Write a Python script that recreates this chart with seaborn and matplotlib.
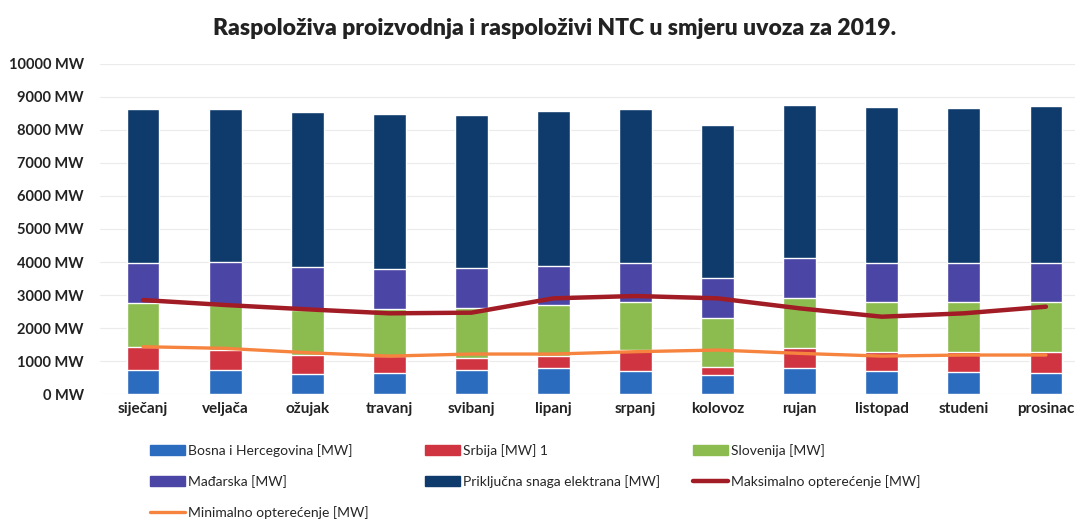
import matplotlib
matplotlib.use("Agg")
import matplotlib.pyplot as plt
from matplotlib.patches import Patch
from matplotlib.lines import Line2D
import seaborn as sns
import numpy as np

# Data (MW)
months = ["siječanj", "veljača", "ožujak", "travanj", "svibanj", "lipanj",
          "srpanj", "kolovoz", "rujan", "listopad", "studeni", "prosinac"]
bosna = [727, 727, 606, 645, 727, 778, 707, 576, 778, 707, 677, 646]
srbija = [688, 606, 574, 505, 353, 372, 626, 252, 606, 576, 606, 637]
slovenija = [1352, 1364, 1365, 1416, 1516, 1547, 1464, 1465, 1515, 1514, 1514, 1514]
madarska = [1193, 1313, 1315, 1214, 1212, 1181, 1183, 1212, 1212, 1183, 1183, 1183]
prikljucna = [4660, 4610, 4670, 4690, 4650, 4692, 4650, 4655, 4649, 4710, 4700, 4740]
max_opt = [2848, 2697, 2566, 2445, 2465, 2899, 2970, 2899, 2596, 2343, 2445, 2646]
min_opt = [1434, 1384, 1253, 1150, 1212, 1212, 1283, 1333, 1232, 1150, 1182, 1182]

labels = ["Bosna i Hercegovina [MW]", "Srbija [MW] 1", "Slovenija [MW]",
          "Mađarska [MW]", "Priključna snaga elektrana [MW]",
          "Maksimalno opterećenje [MW]", "Minimalno opterećenje [MW]"]
colors = ["#2b6cbf", "#cf3440", "#8cbc50", "#4b45a6", "#0e3a6c", "#a11c25", "#f6843f"]

sns.set_style("white")
plt.rcParams["font.family"] = ["Lato", "DejaVu Sans"]

fig = plt.figure(figsize=(10.79, 5.24), dpi=100)
ax = fig.add_axes([0.093, 0.248, 0.903, 0.63])

# stacked bars drawn as cumulative totals, tallest first
layers = [bosna, srbija, slovenija, madarska, prikljucna]
cum = np.cumsum(np.array(layers), axis=0)
for i in range(len(layers) - 1, -1, -1):
    sns.barplot(x=months, y=cum[i], color=colors[i], width=0.4, saturation=1,
                errorbar=None, ax=ax, zorder=2)

xs = np.arange(len(months))
sns.lineplot(x=xs, y=max_opt, color=colors[5], linewidth=3.2, ax=ax, zorder=3)
sns.lineplot(x=xs, y=min_opt, color=colors[6], linewidth=2.4, ax=ax, zorder=3)

ax.set_ylim(0, 10000)
ax.set_xlim(-0.52, 11.35)
ax.set_yticks(range(0, 10001, 1000))
ax.set_yticklabels([f"{v} MW" for v in range(0, 10001, 1000)],
                   fontsize=10.5, fontweight="bold", color="#222222")
ax.tick_params(axis="y", length=0, pad=12)
ax.tick_params(axis="x", length=0, pad=6)
for t in ax.get_xticklabels():
    t.set_fontsize(11)
    t.set_fontweight("bold")
    t.set_color("#222222")
ax.yaxis.grid(True, color="#ebebeb", linewidth=0.8)
ax.set_axisbelow(True)
for s in ax.spines.values():
    s.set_visible(False)
ax.set_xlabel("")
ax.set_ylabel("")

fig.text(0.514, 0.945, "Raspoloživa proizvodnja i raspoloživi NTC u smjeru uvoza za 2019.",
         ha="center", va="center", fontsize=16.5, fontweight="heavy", color="#222222")

# legend, one column at a time
handles = [Patch(color=c) for c in colors[:5]] + \
          [Line2D([], [], color=colors[5], linewidth=3.2),
           Line2D([], [], color=colors[6], linewidth=2.4)]
columns = [([0, 3, 6], 150), ([1, 4], 425), ([2, 5], 693)]
for idx, xpx in columns:
    fig.legend([handles[i] for i in idx], [labels[i] for i in idx],
               loc="upper left", bbox_to_anchor=(xpx / 1079, 1 - 444 / 524),
               frameon=False, fontsize=10, borderpad=0, borderaxespad=0,
               handlelength=2.5, handletextpad=0.25, labelspacing=1.3)

fig.savefig("out.png", dpi=100)
